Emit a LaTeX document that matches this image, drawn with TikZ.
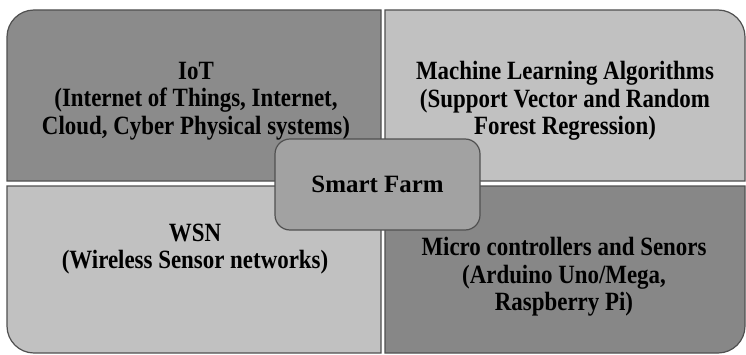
\documentclass[tikz,border=0pt]{standalone}
\usepackage{fontspec}
\setmainfont{Liberation Serif}
\definecolor{darkpanel}{HTML}{8B8B8B}
\definecolor{darkpanelb}{HTML}{878787}
\definecolor{lightpanel}{HTML}{C1C1C1}
\definecolor{hubfill}{HTML}{A2A2A2}
\definecolor{edgegray}{HTML}{505050}
\tikzset{
  panel/.style={draw=edgegray, line width=1.2bp},
  paneltext/.style={align=center, text=black, transform shape, yscale=1.15,
    font=\bfseries\fontsize{23}{24}\selectfont},
  hub/.style={draw=edgegray, line width=1.2bp, fill=hubfill,
    rounded corners=15bp, minimum width=205bp, minimum height=91bp,
    font=\bfseries\fontsize{25}{30}\selectfont}
}
\begin{document}
\begin{tikzpicture}[x=1bp, y=1bp]
\useasboundingbox (0,0) rectangle (746,354);
\fill[white] (0,0) rectangle (746,354);

% four quadrants, each rounded only at its outer corner
\filldraw[panel, fill=darkpanel]
  (7,173) -- (7,317) arc[start angle=180, end angle=90, radius=27]
  -- (381,344) -- (381,173) -- cycle;
\filldraw[panel, fill=lightpanel]
  (385,173) -- (385,344) -- (718,344)
  arc[start angle=90, end angle=0, radius=27] -- (745,173) -- cycle;
\filldraw[panel, fill=lightpanel]
  (7,168) -- (381,168) -- (381,1) -- (34,1)
  arc[start angle=270, end angle=180, radius=27] -- cycle;
\filldraw[panel, fill=darkpanelb]
  (385,168) -- (745,168) -- (745,28)
  arc[start angle=0, end angle=-90, radius=27] -- (385,1) -- cycle;

% quadrant labels
\node[paneltext] (iot) at (196,253)
  {IoT\\(Internet of Things, Internet,\\Cloud, Cyber Physical systems)};
\node[paneltext] (ml) at (565,253)
  {Machine Learning Algorithms\\(Support Vector and Random\\Forest Regression)};
\node[paneltext] (wsn) at (195,105)
  {WSN\\(Wireless Sensor networks)};
\node[paneltext] (mcu) at (564,77)
  {Micro controllers and Senors\\(Arduino Uno/Mega,\\Raspberry Pi)};

% central hub
\node[hub] (farm) at (377.5,169.5) {Smart Farm};
\end{tikzpicture}
\end{document}
